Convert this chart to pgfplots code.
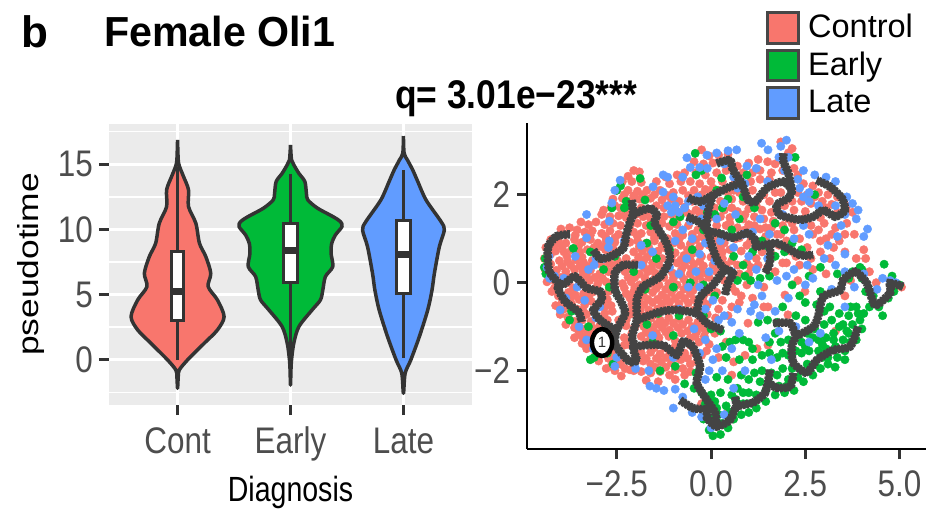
\documentclass[border=0pt]{standalone}
\usepackage{fontspec}
\setmainfont{Liberation Sans}
\usepackage{pgfplots}
\pgfplotsset{compat=1.18}
\definecolor{ctrl}{HTML}{F8766D}
\definecolor{early}{HTML}{00BA38}
\definecolor{late}{HTML}{619CFF}
\definecolor{ink}{HTML}{333333}
\definecolor{ticktxt}{HTML}{4D4D4D}
\definecolor{traj}{HTML}{444444}
\definecolor{panel}{HTML}{EBEBEB}
\tikzset{x=1pt,y=1pt}
\pgfplotsset{
  ticktext/.style={font=\fontsize{37}{40}\selectfont,text=ticktxt,xscale=.85,inner sep=0pt},
  violin/.style={draw=ink,line width=3.5pt,line join=round,smooth,tension=.5,fill=#1},
  whisker/.style={draw=ink,line width=3.5pt},
  boxy/.style={draw=ink,line width=3pt,fill=white},
  med/.style={draw=ink,line width=7pt},
  key/.style={only marks,mark=*,mark size=4.2pt,color=#1,mark options={draw=none,fill=#1},
    legend image code/.code={\draw[line width=3pt,draw=ink!90,fill=#1] (0pt,-12.5pt) rectangle (31pt,18pt);}},
  path/.style={draw=traj,line width=8.5pt,dash pattern=on 2.6pt off 1pt,smooth,tension=.4,forget plot,no markers,
    postaction={draw=traj,solid,line width=6.5pt}},
}
\begin{document}
\begin{tikzpicture}
\useasboundingbox (0,0) rectangle (926,509);
\node[anchor=base west,inner sep=0pt,font=\fontsize{44}{46}\selectfont\bfseries] at (21,461) {b};
\begin{axis}[
  at={(109pt,104pt)},anchor=south west,scale only axis,width=363pt,height=281pt,
  xmin=.393,xmax=3.607,ymin=-3.45,ymax=18.08,
  axis background/.style={fill=panel},
  axis line style={draw=none},
  xtick={1,2,3},xticklabels={Cont,Early,Late},
  ytick={0,5,10,15},yticklabels={0,5,10,15},
  minor ytick={-2.5,2.5,7.5,12.5,17.5},
  xmajorgrids,ymajorgrids,yminorgrids,
  major grid style={white,line width=3pt},
  minor grid style={white,line width=1.7pt},
  tick align=outside,xtick pos=bottom,ytick pos=left,
  major tick length=10pt,minor tick length=0pt,
  tick style={draw=ink,line width=3pt},
  tick label style={ticktext},
  xticklabel style={yshift=-11pt,text height=27pt,text depth=6pt},
  yticklabel style={xshift=-7pt},
  every axis x label/.style={at={(rel axis cs:.5,-.342)},anchor=base,font=\fontsize{35}{38}\selectfont,xscale=.815},
  every axis y label/.style={at={(rel axis cs:-.193,.5)},rotate=90,anchor=base,font=\fontsize{29}{32}\selectfont,xscale=1.22},
  xlabel={Diagnosis},ylabel={pseudotime},
  title={Female Oli1},
  every axis title/.style={at={(rel axis cs:-.014,1.2775)},anchor=base west,inner sep=0pt,font=\fontsize{42}{44}\selectfont\bfseries,xscale=.98},
]
% Cont
\addplot[violin=ctrl] coordinates {(1,16.86)(1.006,15.33)(1.018,14.81)(1.053,14.05)(1.097,13.03)(1.097,11.75)(1.162,10.47)(1.194,8.94)(1.25,7.92)(1.294,6.64)(1.271,5.62)(1.353,4.6)(1.412,3.32)(1.353,2.3)(1.236,1.28)(1.088,0)(1.015,-.77)(1.006,-1.28)(1,-2.17)(.994,-1.28)(.985,-.77)(.912,0)(.764,1.28)(.647,2.3)(.588,3.32)(.647,4.6)(.729,5.62)(.706,6.64)(.75,7.92)(.806,8.94)(.838,10.47)(.903,11.75)(.903,13.03)(.947,14.05)(.982,14.81)(.994,15.33)(1,16.86)};
\addplot[whisker] coordinates {(1,14.8)(1,0)};
\addplot[boxy] coordinates {(.947,3)(1.053,3)(1.053,8.3)(.947,8.3)} --cycle;
\addplot[med] coordinates {(.947,5.24)(1.053,5.24)};
% Early
\addplot[violin=early] coordinates {(2,16.48)(2.009,15.33)(2.03,14.94)(2.074,14.3)(2.127,13.67)(2.141,12.77)(2.153,12.26)(2.241,11.62)(2.377,10.98)(2.442,10.6)(2.456,10.22)(2.398,9.58)(2.365,8.94)(2.359,8.17)(2.374,7.15)(2.309,6.39)(2.286,5.36)(2.265,4.6)(2.191,3.83)(2.074,2.55)(2.029,1.28)(2.009,0)(2.004,-.77)(2,-1.92)(1.996,-.77)(1.991,0)(1.971,1.28)(1.926,2.55)(1.809,3.83)(1.735,4.6)(1.714,5.36)(1.691,6.39)(1.626,7.15)(1.641,8.17)(1.635,8.94)(1.602,9.58)(1.544,10.22)(1.558,10.6)(1.623,10.98)(1.759,11.62)(1.847,12.26)(1.859,12.77)(1.873,13.67)(1.926,14.3)(1.97,14.94)(1.991,15.33)(2,16.48)};
\addplot[whisker] coordinates {(2,14.25)(2,0)};
\addplot[boxy] coordinates {(1.941,5.93)(2.059,5.93)(2.059,10.47)(1.941,10.47)} --cycle;
\addplot[med] coordinates {(1.941,8.38)(2.059,8.38)};
% Late
\addplot[violin=late] coordinates {(3,17.16)(3.006,15.84)(3.035,15.33)(3.082,14.56)(3.127,13.67)(3.2,12.26)(3.333,10.6)(3.362,9.96)(3.318,8.68)(3.274,6.64)(3.253,5.36)(3.215,3.83)(3.141,1.79)(3.065,0)(3.015,-1.02)(3,-2.55)(2.985,-1.02)(2.935,0)(2.859,1.79)(2.785,3.83)(2.747,5.36)(2.726,6.64)(2.682,8.68)(2.638,9.96)(2.667,10.6)(2.8,12.26)(2.873,13.67)(2.918,14.56)(2.965,15.33)(2.994,15.84)(3,17.16)};
\addplot[whisker] coordinates {(3,14.56)(3,.13)};
\addplot[boxy] coordinates {(2.941,5.06)(3.059,5.06)(3.059,10.68)(2.941,10.68)} --cycle;
\addplot[med] coordinates {(2.941,8.05)(3.059,8.05)};
\end{axis}
\begin{axis}[
  at={(527pt,60pt)},anchor=south west,scale only axis,width=399pt,height=326pt,
  xmin=-4.88,xmax=5.70,ymin=-3.78,ymax=3.63,
  axis lines=left,axis line style={draw=black,line width=2pt,-},
  xtick={-2.5,0,2.5,5},xticklabels={−2.5,0.0,2.5,5.0},
  ytick={-2,0,2},yticklabels={−2,0,2},
  tick align=outside,major tick length=10pt,
  tick style={draw=ink,line width=3pt},
  tick label style={ticktext},
  xticklabel style={yshift=-10pt,text height=27pt,text depth=6pt},
  yticklabel style={xshift=-8pt},
  clip=false,
  title={q= 3.01e−23***},
  every axis title/.style={at={(rel axis cs:-.331,1.043)},anchor=base west,inner sep=0pt,font=\fontsize{40}{42}\selectfont\bfseries,xscale=.885},
  legend style={at={(rel axis cs:.599,1.3436)},anchor=north west,draw=none,fill=none,inner sep=0pt,
    font=\fontsize{32.5}{34}\selectfont,row sep=0pt,
    /tikz/every odd column/.append style={column sep=8pt},
    nodes={inner sep=0pt,text height=25pt,text depth=11pt}},
  legend cell align=left,
]
\addplot[key=ctrl] coordinates {(-.25,3.02)(-.05,2.88)(.2,2.9)(-.45,2.75)(-.2,2.7)(.05,2.72)(.45,2.92)(.7,2.65)(1,2.72)(1.25,2.8)(1.5,2.75)(1.85,3.2)(2.15,3.05)(2.05,2.95)(1.7,2.7)
(-2.05,2.55)(-1.9,2.52)(-2.2,2.42)(-1.2,2.4)(-.9,2.45)(-.7,2.5)(-.4,2.5)(-.15,2.45)(.15,2.5)(.4,2.55)(.85,2.5)(1.1,2.5)(1.3,2.55)(1.6,2.5)(1.9,2.55)(2.2,2.6)(2.3,2.45)
(-2.35,2.3)(-2.1,2.3)(-1.85,2.28)(-1.45,2.3)(-1.1,2.25)(-.8,2.3)(-.55,2.3)(-.3,2.25)(0,2.3)(.3,2.3)(.65,2.3)(1.05,2.3)(1.3,2.35)(1.55,2.35)(2.45,2.25)(2.7,2.2)(3.2,2.15)
(-2.5,2.1)(-2.2,2.1)(-1.95,2.08)(-1.7,2.1)(-1.35,2.1)(-1,2.05)(-.75,2.1)(-.45,2.1)(-.15,2.12)(.2,2.1)(.45,2.05)(.75,2.05)(1.1,2.1)(1.7,2.05)(2.3,2.05)(2.55,2)(2.85,2.05)(3.1,2)(3.35,1.95)
(-2.6,1.9)(-2.35,1.92)(-2.15,1.85)(-1.9,1.9)(-1.6,1.92)(-1.3,1.88)(-1.05,1.9)(-.85,1.85)(-.5,1.85)(-.1,1.85)(.25,1.85)(.55,1.9)(.85,1.85)(1.25,1.9)(1.55,1.85)(1.95,1.75)(2.4,1.85)(2.65,1.8)(2.95,1.85)(3.2,1.78)(3.6,1.75)(3.75,1.6)
(-2.85,1.65)(-2.65,1.72)(-2.4,1.7)(-2.2,1.68)(-1.85,1.7)(-1.45,1.75)(-1.25,1.7)(-.95,1.68)(-.7,1.72)(-.4,1.65)(-.2,1.68)(.1,1.7)(.35,1.65)(.7,1.62)(1,1.68)(1.35,1.65)(1.6,1.6)(2.2,1.65)(2.5,1.62)(2.9,1.48)
(-2.9,1.55)(-2.68,1.5)(-2.45,1.52)(-2.25,1.48)(-1.8,1.5)(-1.6,1.45)(-1.25,1.5)(-1.05,1.55)(-.85,1.48)(-.55,1.55)(-.3,1.58)(0,1.5)(.25,1.5)(.5,1.48)(.85,1.45)(1.15,1.5)(1.4,1.45)(1.65,1.4)(2.05,1.45)(2.65,1.3)(3,1.35)(3.3,1.25)(3.6,1.35)
(-3.45,1.38)(-3.25,1.32)(-3.05,1.38)(-2.82,1.32)(-2.6,1.35)(-2.4,1.3)(-2.15,1.3)(-1.95,1.35)(-1.72,1.3)(-1.3,1.35)(-1.1,1.28)(-.9,1.32)(-.6,1.3)(-.35,1.2)(-.15,1.38)(.15,1.3)(.4,1.3)(.7,1.25)(1,1.32)(1.3,1.22)(1.6,1.25)(1.9,1.3)(2.2,1.2)
(-3.98,1.22)(-3.75,1.25)(-3.55,1.2)(-3.35,1.15)(-3.15,1.18)(-2.9,1.12)(-2.68,1.18)(-2.45,1.1)(-2.05,1.15)(-1.85,1.12)(-1.6,1.15)(-1.4,1.1)(-.95,1.12)(-.75,1.08)(-.5,1.1)(-.25,1.05)(.1,1.1)(.4,1.05)(.75,1.02)(1.05,.95)(1.45,1.05)(1.75,1.1)(2,.95)(2.35,1)(2.7,1.1)(3.05,1)(3.4,.95)(3.8,1.1)
(-4.25,.98)(-4.05,.95)(-3.85,.9)(-3.62,.98)(-3.42,.92)(-3.2,.98)(-3,.9)(-2.78,.95)(-2.55,.92)(-2.15,.92)(-1.95,.95)(-1.72,.9)(-1.5,.95)(-1.3,.85)(-1,.9)(-.8,.85)(-.55,.88)(-.3,.82)(-.05,.85)(.25,.82)(.5,.75)(.8,.72)(1.35,.7)(1.65,.62)(2.1,.72)(2.55,.8)(2.9,.7)(3.55,.7)(3.85,.55)
(-4.38,.8)(-4.12,.72)(-3.9,.7)(-3.7,.75)(-3.48,.7)(-3.28,.75)(-3.05,.68)(-2.8,.75)(-2.58,.75)(-2.05,.7)(-1.82,.72)(-1.6,.68)(-1.4,.72)(-.95,.68)(-.72,.62)(-.5,.66)(-.25,.6)(0,.58)(.3,.55)(.55,.5)(.95,.45)(1.25,.4)(2,.45)(2.35,.4)(3.15,.55)(4.05,.75)
(-4.42,.55)(-4.02,.5)(-3.8,.48)(-3.58,.52)(-3.38,.46)(-3.15,.5)(-2.92,.42)(-2.7,.45)(-2.48,.5)(-2.25,.55)(-2.02,.45)(-1.78,.5)(-1.55,.45)(-1.3,.55)(-.9,.45)(-.7,.4)(-.45,.42)(-.2,.38)(.15,.25)(.75,.2)(1,.2)(1.7,.25)(2.7,.3)(3.05,.2)(4.2,.25)
(-4.4,.3)(-4.1,.28)(-3.85,.25)(-3.62,.3)(-3.4,.25)(-3.2,.28)(-2.95,.2)(-2.72,.25)(-2.28,.25)(-1.9,.2)(-1.68,.25)(-1.48,.22)(-1.25,.3)(-1.02,.22)(-.8,.18)(-.55,.2)(-.3,.15)(-.05,.12)(.35,.05)(.95,-.05)(1.4,-.1)(2.3,.05)(3.7,.05)
(-4.35,.02)(-4.15,.05)(-3.78,0)(-3.5,-.05)(-3.22,.05)(-3,-.02)(-2.78,.02)(-2.35,-.02)(-2.12,.02)(-1.9,-.05)(-1.6,-.02)(-1.38,-.05)(-1.12,-.02)(-.9,-.05)(-.65,-.02)(-.42,-.08)(-.15,-.1)
(-4.22,-.2)(-4.05,-.3)(-3.78,-.22)(-3.6,-.28)(-3.38,-.25)(-3.15,-.22)(-2.72,-.2)(-2.75,-.38)(-2.25,-.25)(-2.05,-.2)(-1.8,-.28)(-1.55,-.22)(-1.3,-.28)(-1.05,-.22)(-.82,-.28)(-.55,-.25)(-.2,-.3)(.15,-.22)(.65,-.2)(1.1,-.35)
(-4.12,-.52)(-3.7,-.48)(-3.35,-.5)(-3.18,-.42)(-2.65,-.52)(-2.62,-.65)(-2.1,-.48)(-1.78,-.5)(-1.55,-.45)(-1.3,-.48)(-1.1,-.45)(-.85,-.48)(-.6,-.46)(-.35,-.48)(-.1,-.5)(.2,-.6)(.55,-.55)(1.4,-.55)
(-4,-.72)(-3.8,-.78)(-3.3,-.72)(-3.18,-.88)(-2.82,-.7)(-2.75,-.85)(-2.45,-.85)(-2.15,-.72)(-1.8,-.75)(-1.58,-.8)(-1.35,-.85)(-1.12,-.8)(-.85,-.82)(-.6,-.85)(-.35,-.9)(-.1,-.72)(.12,-.8)
(-3.85,-.95)(-3.62,-1.02)(-3.35,-1.05)(-3.15,-1.02)(-2.95,-.98)(-2.25,-.98)(-2.02,-1.02)(-1.78,-1)(-1.55,-1.05)(-1.3,-1.02)(-1.1,-1.08)(-.88,-1.02)(-.62,-1.1)(-.38,-1.12)(-.15,-1.1)(.1,-1.15)(.4,-1.35)
(-3.62,-1.25)(-3.42,-1.22)(-3.2,-1.28)(-3.05,-1.15)(-2.72,-1.22)(-2.3,-1.25)(-1.85,-1.22)(-1.6,-1.22)(-1.38,-1.25)(-1.12,-1.22)(-.95,-1.32)(-.55,-1.25)(-.32,-1.35)(-.05,-1.4)
(-3.3,-1.5)(-3.12,-1.45)(-3.05,-1.6)(-2.65,-1.55)(-2.3,-1.42)(-1.85,-1.6)(-1.6,-1.58)(-1.35,-1.62)(-1.1,-1.55)(-.7,-1.6)(-.25,-1.65)
(-2.98,-1.78)(-2.72,-1.72)(-2.52,-1.78)(-2.3,-1.72)(-1.8,-1.78)(-1.6,-1.85)(-1.32,-1.8)(-1.05,-1.82)(-.8,-1.75)(-.55,-1.85)(-.95,-1.98)
(-2.78,-1.95)(-2.55,-2)(-2.28,-1.95)(-2.05,-2)(-1.85,-2.02)(-1.6,-2.05)(-1.35,-2.02)(-1.1,-2.1)(-.7,-2.1)(-2.38,-2.12)(-1.72,-2.22)(-1.4,-2.25)(-.95,-2.2)
(.2,-1.7)(.55,-2.1)(.9,-1.65)(.6,-1.8)(4.38,0)(4.95,-.05)(5.05,-.1)(2.49,-.2)(1.96,-.28)(1.51,-.55)(2.04,-.73)(.98,-.92)(1.22,-1.5)(1.51,-1.42)(3.3,-1.1)(3.55,-.3)(4.1,.55)(.45,-2.95)(-.25,-2.75)
(-3.85,1.1)(-3.6,1.08)(-3.2,1.08)(-2.8,1.05)(-2.55,1.02)(-1.95,1.05)(-1.5,1.02)(-1.15,1)(-.85,.98)(-.4,.98)(-.15,.98)
(-4.15,.85)(-3.95,.82)(-3.52,.82)(-3.1,.8)(-2.9,.82)(-2.65,.62)(-1.9,.82)(-1.65,.8)(-1.2,.78)(-.62,.75)(-.4,.72)
(-4.25,.65)(-3.82,.6)(-3.42,.58)(-3,.55)(-2.58,.38)(-2.35,.4)(-1.92,.58)(-1.7,.58)(-1.45,.6)(-1.05,.58)(-.8,.52)(-.55,.52)(-.3,.48)
(-4.25,.42)(-3.95,.38)(-3.72,.4)(-3.48,.38)(-3.3,.38)(-2.8,.32)(-2.15,.32)(-1.78,.35)(-1.58,.33)(-1.38,.4)(-.78,.3)(-.52,.32)(-.28,.28)(-.1,.2)
(-4.25,.15)(-3.98,.12)(-3.72,.12)(-3.5,.1)(-3.3,.15)(-3.08,.12)(-2.88,.1)(-2.2,.12)(-2.02,.12)(-1.75,.1)(-1.5,.08)(-1.25,.12)(-1,.1)(-.72,.08)(-.45,.05)(-.22,.02)
(-4.15,-.12)(-3.65,-.12)(-3.28,-.12)(-3.05,-.12)(-2.65,-.05)(-2.3,-.12)(-2.02,-.1)(-1.72,-.15)(-1.45,-.13)(-1.2,-.15)(-.98,-.13)(-.72,-.15)(-.48,-.18)
(-3.95,-.45)(-3.72,-.35)(-3.5,-.38)(-3.25,-.32)(-2.9,-.3)(-2.15,-.35)(-1.9,-.38)(-1.67,-.38)(-1.42,-.38)(-1.18,-.35)(-.95,-.36)(-.7,-.36)(-.45,-.38)(-.22,-.4)
(-3.9,-.6)(-3.55,-.6)(-3.4,-.62)(-2.82,-.55)(-2.1,-.62)(-1.88,-.62)(-1.65,-.62)(-1.42,-.6)(-1.18,-.62)(-.95,-.6)(-.7,-.62)(-.45,-.62)(-.2,-.62)
(-3.62,-.88)(-3.42,-.85)(-2.95,-.82)(-2.25,-.85)(-1.9,-.88)(-1.68,-.92)(-1.45,-.95)(-1.22,-.92)(-1,-.92)(-.75,-.95)(-.5,-1)(-.25,-1)
(-3.5,-1.12)(-3.25,-1.15)(-2.85,-1.12)(-2.65,-1.08)(-2.1,-1.15)(-1.72,-1.12)(-1.45,-1.15)(-1.2,-1.12)(-.78,-1.15)(-.42,-1.22)(-.18,-1.22)
(-3.42,-1.38)(-3.22,-1.42)(-2.98,-1.38)(-2.78,-1.4)(-2.65,-1.35)(-2.2,-1.4)(-1.72,-1.35)(-1.5,-1.48)(-1.22,-1.48)(-.95,-1.45)(-.55,-1.42)(-.12,-1.55)
(-2.9,-1.6)(-2.55,-1.65)(-2,-1.6)(-1.72,-1.72)(-1.45,-1.72)(-1.18,-1.7)(-.9,-1.7)(-.62,-1.72)(-.45,-1.6)(-.38,-1.8)
(-2.65,-1.9)(-2.4,-1.85)(-2.15,-1.98)(-1.48,-1.92)(-1.2,-1.92)(-.75,-1.95)(-.55,-2.02)
(-2.3,2)(-2.05,1.98)(-1.8,2)(-1.5,2)(-1.15,1.98)(-.6,1.98)(-.25,2)(0,2.05)(-2.55,1.75)(-2.28,1.55)(-2,1.55)(-1.7,1.6)(-.65,1.6)(-.15,1.5)(.55,1.7)(1.2,1.75)(.9,1.55)
(.05,2.15)(.6,2.1)(.95,1.95)(1.4,2)(1.85,2.05)(2.15,1.85)(2.75,1.95)(3.05,1.7)(3.35,1.6)(.5,1.35)(.9,1.2)(1.15,1.3)(1.45,1.25)(1.85,1.1)(2.15,1.35)(2.45,1.45)(2.85,1.2)(3.2,1.1)(3.55,1.1)(.1,.95)(.35,.9)(.65,1)(.95,.85)(1.2,.55)(1.5,.35)(1.8,.85)(1.9,.45)(2.25,.6)(2.65,.55)(2.9,.95)(3.25,.8)(.1,.7)(.4,.4)(.7,.4)(.25,.45)(.05,.4)(.55,-.1)(.8,-.3)(.3,-.4)(.45,-.75)(.75,-.45)(-.05,-.2)(1.05,.35)(.3,.7)};
\addlegendentry{Control}
\addplot[key=early] coordinates {(-.42,2.94)(-.4,2.45)(-.25,2.55)(.28,2.38)(.15,2.1)(-1.88,2.37)(-2.5,2.1)(-2.4,2.2)(-2.25,1.85)(-2.15,1.75)(-2.3,1.7)(-2.63,1.7)(-1.75,1.88)(-1.6,1.3)(-1,1.38)(-.82,1.5)(2.23,2.85)(.95,2.45)(.85,1.95)(.45,1.9)(.3,1.7)(.1,1.55)(-.2,1.2)(-.5,.75)(-.1,1.6)(.55,1.2)(.25,1.1)(.75,1.45)(1.15,1.7)(1.35,.95)(1.45,.85)(1.7,.6)(1.1,.7)(.85,.4)(.6,.6)(.7,.05)(.9,.15)(1.05,.05)(1.3,.1)(1.55,.15)(2.75,2)(1.95,1.2)(1.7,1.35)(2.15,.9)(2.4,.75)(1.95,.7)
(-4.4,.55)(-4.42,.35)(-4.38,.2)(-3.65,.78)(-3.2,.7)(-2.85,.3)(-2.55,.6)(-2.7,-.1)(-2.98,-.5)(-3.7,-.65)(-3.75,-.85)(-3.25,-1)(-3.2,-1.75)(-3.1,-1.7)(-2.6,-1.85)(-2.75,-1.6)(-1.7,.9)(-1.45,.55)(-2.05,.25)(-1.75,-.15)(-1.1,.75)(-1,-.1)(-.85,-.75)(-1.4,-.7)(-1.7,-.95)(-1.55,-1.35)(-1,-1.2)(-1.35,-2)(-.95,-1.9)(-.55,0)(-.2,-.05)(.1,-.3)(-.2,-.75)(0,-1.05)(.25,-1.1)
(3.9,-.7)(3.65,-.75)(3.4,-.7)(3.95,-.85)(4,-1.05)(3.85,-1.3)(3.7,-1.35)(3.55,-1.55)(3.35,-1.7)(3.1,-1.7)(2.9,-1.95)(2.7,-2.1)(2.45,-2.25)(2.2,-2.45)(1.95,-2.5)(1.7,-2.55)(1.45,-2.7)(1.2,-2.85)(1,-2.95)(.8,-3)(.6,-3.1)(.45,-3.3)(.25,-3.45)(.05,-3.48)(-.05,-3.35)(-.2,-3.1)(-.1,-2.9)(0,-3.1)(.3,-3.2)
(3.5,-1.3)(3.3,-1.45)(3.05,-1.5)(2.85,-1.55)(3.25,-1.15)(3.05,-1.25)(2.85,-1.3)(3.4,-1)(3.65,-1.15)(3.75,-.95)(3.5,-.95)(3.2,-.85)(3,-.95)(2.75,-1.05)(2.55,-1.15)(2.4,-1.35)(2.6,-1.55)(2.4,-1.6)(2.55,-1.85)(2.3,-2.15)(2.05,-2.2)(1.9,-1.95)(1.75,-2.1)(1.9,-1.6)(2.05,-1.3)(1.85,-1.35)(1.75,-1.7)(1.55,-1.35)(1.35,-1.65)(1.35,-2)(1.55,-2.3)(1.2,-2.55)(1,-2.2)(.85,-2.5)(.65,-2.65)(.95,-2.75)(.4,-2.8)(.25,-2.5)(.45,-2.2)(.15,-2.15)(.1,-2.7)(-.25,-2.5)(-.45,-2.4)(-.4,-2.05)(-.7,-2.3)(.75,-1.75)(.5,-1.35)(.3,-1.45)(.4,-1.7)(1,-1.35)(1.1,-1.75)(.8,-2.1)(.65,-1.3)
(2.5,-.45)(2.35,-.3)(2.15,-.05)(2.6,.15)(2.9,-.2)(2.8,-.5)(3.15,-.55)(3,-.65)(1.75,-.9)(1.5,-.85)(1.25,-.9)(1.9,-.55)(3.29,-1.92)(4.3,-.3)(4.45,-.55)(4.55,-.75)(4.2,-.55)(4,.3)(4.7,-.35)(4.85,-.2)(5,-.05)(4.8,.15)(4,.1)(3.75,.25)(3.95,.35)(4.59,.42)(4.1,-.2)(3.65,.1)(2.9,.35)(3.35,.2)
(3.6,-1.1)(3.25,-1.3)(2.95,-1.4)(2.7,-1.25)(2.5,-1.45)(2.95,-1.7)(2.75,-1.85)(2.4,-2)(2.15,-1.95)(2,-2.35)(1.8,-2.35)(1.6,-2.05)(1.45,-2.45)(1.3,-2.25)(1.15,-2.05)(1,-2.5)(.85,-2.75)(.7,-2.4)(.55,-2.55)(.5,-2.95)(.2,-3)(.15,-2.85)(0,-2.55)(-.15,-2.75)(3.7,-.55)(3.85,-.55)(4.05,-.7)(3.55,-1.75)(3.1,-1.85)(2.05,-1.65)(2.25,-1.55)(1.55,-1.6)(1.1,-1.5)(.85,-1.3)(1.7,-1.15)(2.25,-.75)(2.5,-.85)};
\addlegendentry{Early}
\addplot[key=late] coordinates {(-.64,2.84)(-.11,2.9)(.15,2.95)(1.34,3.17)(1.51,3.02)(.68,3.02)(.45,3)(2,3.24)(1.85,3.1)(2.05,2.85)(1.8,2.85)(-.3,2.62)(-.55,2.62)(-.75,2.4)(-.1,2.6)(.35,2.7)(.6,2.4)(.95,2.65)(1.2,2.6)(1.5,2.3)(.9,2.25)(.7,2.15)(1.95,2.55)(2.45,2.55)(2.75,2.45)(3.05,2.4)(3.3,2.3)(2.3,2.35)(2.6,2.05)(2.45,1.95)(2.35,2.15)(2.6,1.85)(2.85,1.75)(3.3,1.75)(3.6,1.95)(3.55,1.55)(3.75,1.8)(3.9,1.65)(3.85,1.45)(4.15,1.22)(4.05,1.05)(3.45,1.3)(3.35,1.05)(3.1,.85)(2.45,1.3)(2.6,1.1)(1.9,1.55)(2.2,1)(1.55,1.1)(1.3,1.45)(1.1,1.15)(.85,1.1)(.6,.8)(1,.6)(1.2,.3)(1.5,.55)(1.25,-.05)
(-2.41,2.33)(-2.55,2.1)(-2.63,1.81)(-1.27,2.45)(-1.15,2.4)(-1.54,2.18)(-1.27,2.06)(-1,1.95)(-.95,1.75)(-.85,1.6)(-1.05,1.6)(-.7,1.7)(-1.15,1.75)(-.6,1.85)(-.35,1.95)(-.2,1.75)(.15,1.45)(.35,1.8)(.65,1.55)(-.55,1.4)(-.25,1.45)(-.75,1.2)(-.5,1)(-.95,.95)(-.3,.65)(-.15,.9)(-.65,.55)(-.4,.25)(.25,.95)(.1,.5)(.55,.25)(-.05,.25)
(-3.3,1.55)(-2.7,1.4)(-3.3,1.02)(-2.7,.95)(-2.72,.8)(-3.05,.55)(-3.6,.6)(-3.25,.3)(-3.1,.4)(-2.85,.55)(-4.3,.6)(-4.35,.35)(-4.15,.15)(-4.28,.1)(-3.9,.1)(-1.85,.85)(-2.3,.95)(-1.55,.7)(-1.85,.4)(-1.1,.35)(-.85,.2)
(-3.85,-.35)(-4,-.62)(-3.55,-.1)(-3.35,-.4)(-2.95,-.55)(-3.05,-.8)(-3.5,-1)(-3.3,-1.3)(-3.12,-1.5)(-2.5,-1.7)(-2.55,-1.9)(-2,-1.95)(-1.65,-2)(-1.55,-1.2)(-.85,-.6)(-.6,-.1)(-.3,-.1)(-.15,-.6)(.05,-.4)(.2,-.85)(.35,-.75)(.55,-.9)(.7,-.6)(-1,-1.7)(-.75,-1.35)(-.45,-1.05)(-.15,-1.3)(-.3,-1.6)(.05,-1.75)(-.05,-2)(-.15,-2.2)(.15,-1.5)
(-1.62,-2.35)(-1.45,-2.4)(-1.25,-2.45)(-.95,-2.42)(-.75,-2.6)(-1,-2.85)(-.5,-2.95)(-.25,-3.05)(0,-3.3)(.35,-3)(.55,-1.5)(.3,-2)(.6,-2.4)
(1.15,-.5)(1.75,.05)(2,.15)(2.2,.3)(2.5,-.05)(2.7,.1)(2.55,.4)(3.3,.4)(3.55,.25)(3.2,-.15)(3.55,-.55)(4.05,.2)(4.4,-.15)(4.55,.1)(4.9,0)(4.75,.05)(3.8,-.1)(3.55,.65)(3,.55)(2.05,-.35)(1.7,-.65)(1.3,-.75)(1.05,-.65)(1.35,-.3)(1.8,-1.1)(2.25,-1)(2.6,-1.35)(2.9,-1.15)(1.45,-1.25)(1.6,-1.75)(.9,-2)(.75,-1.15)};
\addlegendentry{Late}
\end{axis}
% principal graph: second axis over the dots, same limits
\begin{axis}[
  at={(527pt,60pt)},anchor=south west,scale only axis,width=399pt,height=326pt,
  xmin=-4.88,xmax=5.70,ymin=-3.78,ymax=3.63,
  hide axis,clip=false,
]
\addplot[path] coordinates {(-3.74,1.1)(-4.09,1.06)(-4.32,.82)(-4.32,.44)(-4.27,.22)(-3.96,-.05)(-3.61,.14)(-3.3,-.12)(-2.94,-.2)(-2.9,-.39)(-3.12,-.62)(-2.94,-.85)(-2.68,-1)(-2.5,-1.08)};
\addplot[path] coordinates {(-3.96,-.05)(-4.06,-.12)(-3.87,-.43)(-3.52,-.66)(-3.43,-.89)};
\addplot[path] coordinates {(-3.12,.74)(-2.94,.55)(-2.68,.59)(-2.33,.78)(-2.24,1.12)(-2.06,1.54)(-1.62,1.69)(-1.44,1.54)(-1.49,1.35)(-1.18,.9)(-1.09,.52)(-1.35,.14)(-1.8,-.09)(-1.97,-.39)(-1.97,-.85)(-2.1,-1.23)(-2.02,-1.42)};
\addplot[path] coordinates {(-2.1,1.88)(-2.06,1.54)};
\addplot[path] coordinates {(-1.94,.4)(-2.33,.4)(-2.55,.22)(-2.55,-.17)(-2.41,-.39)(-2.28,-.69)(-2.5,-1.08)(-2.55,-1.37)(-2.41,-1.57)(-2.15,-1.8)(-1.97,-1.76)(-2.06,-1.48)(-1.71,-1.42)(-1.27,-1.42)(-.91,-1.64)(-.74,-1.34)(-.48,-1.46)(-.29,-1.91)(-.38,-2.28)(-.11,-2.67)(.11,-2.96)(.15,-3.27)};
\addplot[path] coordinates {(-1.97,-.85)(-1.35,-.66)(-.91,-.62)(-.38,-.7)(-.11,-.92)(.32,-1.08)};
\addplot[path] coordinates {(-.38,-.7)(-.29,-.32)(.05,-.05)(.37,.29)(.58,.21)(.45,-.01)(.37,-.28)};
\addplot[path] coordinates {(-.61,1.93)(-.29,1.84)(.05,1.99)(.5,2.18)(.81,2.27)};
\addplot[path] coordinates {(.15,2.71)(.5,2.79)(.58,2.56)(.81,2.27)(.98,1.88)(1.17,1.84)(1.48,2.15)(1.91,2.3)(2.14,2.11)(2.05,1.92)(1.74,1.77)(1.83,1.54)(2.36,1.43)(2.71,1.5)(2.98,1.65)(3.29,1.5)(3.55,1.65)(3.47,1.92)(3.16,2.18)(2.8,2.33)};
\addplot[path] coordinates {(1.92,2.94)(1.92,2.75)(2.05,2.49)(2.14,2.11)};
\addplot[path] coordinates {(-.64,1.5)(-.34,1.39)(-.11,1.2)(.06,.74)(.19,.48)(.37,.29)};
\addplot[path] coordinates {(.05,1.99)(-.07,1.65)(-.11,1.2)(.24,1.12)(.58,1.02)(.95,1.13)(1.17,.97)(1.21,.82)(1.74,.9)(2.36,.63)(2.71,.63)};
\addplot[path] coordinates {(1.56,.85)(1.56,.45)(1.43,.22)};
\addplot[path] coordinates {(5.09,-.09)(4.75,-.01)(4.75,-.23)(4.35,-.51)(4.13,-.01)(3.82,.25)(3.5,.06)(3.42,-.17)(2.97,-.32)(2.84,-.77)(2.71,-1)(2.27,-1.19)(2.1,-.92)(1.64,-.92)};
\addplot[path] coordinates {(2.27,-1.19)(2.14,-1.45)(2.18,-1.82)(2.54,-2.05)(2.8,-1.76)(3.24,-1.53)(3.69,-1.45)(3.9,-1)};
\addplot[path] coordinates {(-.82,-2.67)(-.48,-2.85)(-.11,-2.89)(-.11,-3.07)(.15,-3.27)(.5,-3.12)(.68,-2.82)(1.11,-2.73)(1.43,-2.51)(1.51,-2.28)(1.74,-2.39)(2.1,-2.36)(2.18,-2.05)};
\addplot[path] coordinates {(.68,-2.82)(.64,-2.59)};
\addplot[path] coordinates {(1.51,-2.28)(1.56,-1.98)};
% root node
\addplot[only marks,mark=*,mark size=13.5pt,forget plot,
  mark options={draw=black,fill=white,line width=4.5pt,xscale=.75},
  nodes near coords={1},
  every node near coord/.style={anchor=center,inner sep=0pt,font=\fontsize{15}{16}\selectfont,text=ink}]
  coordinates {(-2.89,-1.36)};
\end{axis}
\end{tikzpicture}
\end{document}
